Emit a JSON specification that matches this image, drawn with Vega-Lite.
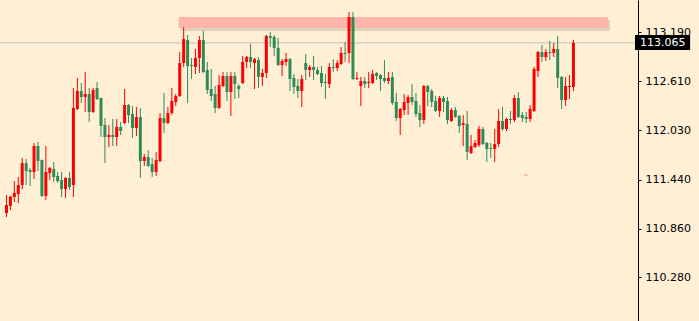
{
  "$schema": "https://vega.github.io/schema/vega-lite/v6.json",
  "width": 638,
  "height": 321,
  "autosize": {"type": "none"},
  "padding": {"left": 0, "top": 0, "right": 61, "bottom": 0},
  "background": "#FFEFD5",
  "config": {
    "view": {"stroke": null},
    "axisY": {"grid": false, "domain": true, "domainColor": "#000000", "domainWidth": 1, "ticks": true, "tickColor": "#000000", "tickSize": 3, "tickWidth": 1, "labelFont": "DejaVu Sans", "labelFontSize": 11, "labelColor": "#000000", "labelPadding": 4, "labelBaseline": "middle", "labelFlush": false, "labelOverlap": false}
  },
  "datasets": {
    "candles": [
      {"i":0,"o":111.044,"h":111.258,"l":110.997,"c":111.139},
      {"i":1,"o":111.128,"h":111.246,"l":111.080,"c":111.240},
      {"i":2,"o":111.234,"h":111.424,"l":111.175,"c":111.282},
      {"i":3,"o":111.270,"h":111.472,"l":111.163,"c":111.377},
      {"i":4,"o":111.377,"h":111.698,"l":111.329,"c":111.638},
      {"i":5,"o":111.638,"h":111.686,"l":111.377,"c":111.543},
      {"i":6,"o":111.555,"h":111.579,"l":111.365,"c":111.531},
      {"i":7,"o":111.531,"h":111.876,"l":111.448,"c":111.840},
      {"i":8,"o":111.840,"h":111.888,"l":111.543,"c":111.662},
      {"i":9,"o":111.674,"h":111.680,"l":111.234,"c":111.246},
      {"i":10,"o":111.246,"h":111.840,"l":111.199,"c":111.531},
      {"i":11,"o":111.520,"h":111.591,"l":111.436,"c":111.579},
      {"i":12,"o":111.567,"h":111.650,"l":111.413,"c":111.472},
      {"i":13,"o":111.484,"h":111.531,"l":111.401,"c":111.424},
      {"i":14,"o":111.436,"h":111.531,"l":111.234,"c":111.329},
      {"i":15,"o":111.329,"h":111.472,"l":111.223,"c":111.460},
      {"i":16,"o":111.460,"h":111.531,"l":111.318,"c":111.353},
      {"i":17,"o":111.377,"h":112.529,"l":111.234,"c":112.291},
      {"i":18,"o":112.280,"h":112.648,"l":112.268,"c":112.493},
      {"i":19,"o":112.493,"h":112.588,"l":112.351,"c":112.422},
      {"i":20,"o":112.422,"h":112.719,"l":112.244,"c":112.458},
      {"i":21,"o":112.458,"h":112.529,"l":112.125,"c":112.244},
      {"i":22,"o":112.244,"h":112.529,"l":112.232,"c":112.505},
      {"i":23,"o":112.529,"h":112.600,"l":112.386,"c":112.398},
      {"i":24,"o":112.410,"h":112.416,"l":111.947,"c":112.078},
      {"i":25,"o":112.090,"h":112.173,"l":111.638,"c":111.947},
      {"i":26,"o":111.947,"h":112.090,"l":111.828,"c":111.971},
      {"i":27,"o":111.971,"h":112.161,"l":111.840,"c":111.947},
      {"i":28,"o":111.947,"h":112.161,"l":111.840,"c":112.066},
      {"i":29,"o":112.066,"h":112.125,"l":111.971,"c":112.018},
      {"i":30,"o":112.113,"h":112.517,"l":112.101,"c":112.327},
      {"i":31,"o":112.327,"h":112.339,"l":112.113,"c":112.208},
      {"i":32,"o":112.220,"h":112.315,"l":111.935,"c":112.054},
      {"i":33,"o":112.054,"h":112.303,"l":111.959,"c":112.185},
      {"i":34,"o":112.185,"h":112.291,"l":111.460,"c":111.662},
      {"i":35,"o":111.662,"h":111.745,"l":111.603,"c":111.710},
      {"i":36,"o":111.710,"h":111.793,"l":111.591,"c":111.603},
      {"i":37,"o":111.626,"h":111.698,"l":111.472,"c":111.531},
      {"i":38,"o":111.531,"h":111.769,"l":111.484,"c":111.674},
      {"i":39,"o":111.662,"h":112.232,"l":111.650,"c":112.173},
      {"i":40,"o":112.173,"h":112.470,"l":111.995,"c":112.113},
      {"i":41,"o":112.113,"h":112.303,"l":112.101,"c":112.232},
      {"i":42,"o":112.232,"h":112.529,"l":112.208,"c":112.375},
      {"i":43,"o":112.363,"h":112.458,"l":112.315,"c":112.434},
      {"i":44,"o":112.434,"h":112.956,"l":112.422,"c":112.826},
      {"i":45,"o":112.826,"h":113.253,"l":112.778,"c":113.111},
      {"i":46,"o":113.099,"h":113.158,"l":112.351,"c":112.790},
      {"i":47,"o":112.802,"h":112.885,"l":112.636,"c":112.790},
      {"i":48,"o":112.778,"h":112.992,"l":112.695,"c":112.885},
      {"i":49,"o":112.885,"h":113.146,"l":112.707,"c":113.099},
      {"i":50,"o":113.099,"h":113.206,"l":112.707,"c":112.719},
      {"i":51,"o":112.743,"h":112.838,"l":112.458,"c":112.505},
      {"i":52,"o":112.517,"h":112.755,"l":112.375,"c":112.434},
      {"i":53,"o":112.458,"h":112.553,"l":112.232,"c":112.291},
      {"i":54,"o":112.291,"h":112.683,"l":112.280,"c":112.565},
      {"i":55,"o":112.553,"h":112.719,"l":112.541,"c":112.671},
      {"i":56,"o":112.671,"h":112.719,"l":112.375,"c":112.481},
      {"i":57,"o":112.481,"h":112.719,"l":112.196,"c":112.671},
      {"i":58,"o":112.671,"h":112.719,"l":112.398,"c":112.576},
      {"i":59,"o":112.553,"h":112.576,"l":112.410,"c":112.517},
      {"i":60,"o":112.588,"h":112.909,"l":112.576,"c":112.838},
      {"i":61,"o":112.838,"h":112.909,"l":112.766,"c":112.897},
      {"i":62,"o":112.897,"h":113.051,"l":112.766,"c":112.838},
      {"i":63,"o":112.826,"h":112.885,"l":112.517,"c":112.873},
      {"i":64,"o":112.861,"h":112.897,"l":112.529,"c":112.660},
      {"i":65,"o":112.660,"h":112.755,"l":112.553,"c":112.707},
      {"i":66,"o":112.707,"h":113.158,"l":112.648,"c":113.146},
      {"i":67,"o":113.146,"h":113.194,"l":113.016,"c":113.123},
      {"i":68,"o":113.135,"h":113.158,"l":112.909,"c":113.004},
      {"i":69,"o":113.004,"h":113.123,"l":112.790,"c":112.802},
      {"i":70,"o":112.802,"h":112.873,"l":112.671,"c":112.850},
      {"i":71,"o":112.838,"h":112.945,"l":112.790,"c":112.873},
      {"i":72,"o":112.873,"h":112.885,"l":112.493,"c":112.636},
      {"i":73,"o":112.648,"h":112.695,"l":112.458,"c":112.541},
      {"i":74,"o":112.553,"h":112.636,"l":112.410,"c":112.493},
      {"i":75,"o":112.493,"h":112.683,"l":112.303,"c":112.636},
      {"i":76,"o":112.826,"h":112.933,"l":112.624,"c":112.743},
      {"i":77,"o":112.743,"h":112.802,"l":112.660,"c":112.778},
      {"i":78,"o":112.778,"h":112.909,"l":112.624,"c":112.743},
      {"i":79,"o":112.743,"h":112.778,"l":112.683,"c":112.695},
      {"i":80,"o":112.707,"h":112.790,"l":112.541,"c":112.588},
      {"i":81,"o":112.600,"h":112.695,"l":112.398,"c":112.588},
      {"i":82,"o":112.576,"h":112.826,"l":112.529,"c":112.778},
      {"i":83,"o":112.778,"h":112.873,"l":112.719,"c":112.766},
      {"i":84,"o":112.766,"h":112.861,"l":112.731,"c":112.826},
      {"i":85,"o":112.814,"h":113.016,"l":112.802,"c":112.945},
      {"i":86,"o":112.945,"h":113.075,"l":112.838,"c":112.933},
      {"i":87,"o":112.945,"h":113.431,"l":112.826,"c":113.372},
      {"i":88,"o":113.372,"h":113.431,"l":112.624,"c":112.636},
      {"i":89,"o":112.636,"h":112.719,"l":112.624,"c":112.648},
      {"i":90,"o":112.553,"h":112.660,"l":112.315,"c":112.612},
      {"i":91,"o":112.612,"h":112.660,"l":112.529,"c":112.576},
      {"i":92,"o":112.588,"h":112.719,"l":112.529,"c":112.600},
      {"i":93,"o":112.588,"h":112.743,"l":112.576,"c":112.695},
      {"i":94,"o":112.707,"h":112.719,"l":112.624,"c":112.671},
      {"i":95,"o":112.683,"h":112.695,"l":112.493,"c":112.636},
      {"i":96,"o":112.648,"h":112.861,"l":112.588,"c":112.612},
      {"i":97,"o":112.612,"h":112.719,"l":112.576,"c":112.648},
      {"i":98,"o":112.660,"h":112.719,"l":112.327,"c":112.351},
      {"i":99,"o":112.363,"h":112.470,"l":112.137,"c":112.173},
      {"i":100,"o":112.173,"h":112.291,"l":111.971,"c":112.280},
      {"i":101,"o":112.268,"h":112.458,"l":112.208,"c":112.363},
      {"i":102,"o":112.351,"h":112.446,"l":112.208,"c":112.422},
      {"i":103,"o":112.422,"h":112.576,"l":112.327,"c":112.363},
      {"i":104,"o":112.375,"h":112.470,"l":112.185,"c":112.220},
      {"i":105,"o":112.232,"h":112.327,"l":112.066,"c":112.149},
      {"i":106,"o":112.149,"h":112.565,"l":112.101,"c":112.553},
      {"i":107,"o":112.553,"h":112.565,"l":112.315,"c":112.481},
      {"i":108,"o":112.493,"h":112.517,"l":112.303,"c":112.363},
      {"i":109,"o":112.375,"h":112.434,"l":112.244,"c":112.256},
      {"i":110,"o":112.256,"h":112.434,"l":112.185,"c":112.410},
      {"i":111,"o":112.410,"h":112.434,"l":112.244,"c":112.363},
      {"i":112,"o":112.375,"h":112.422,"l":112.101,"c":112.149},
      {"i":113,"o":112.137,"h":112.291,"l":112.125,"c":112.268},
      {"i":114,"o":112.268,"h":112.303,"l":112.173,"c":112.185},
      {"i":115,"o":112.196,"h":112.208,"l":111.995,"c":112.078},
      {"i":116,"o":112.090,"h":112.208,"l":111.840,"c":112.113},
      {"i":117,"o":112.101,"h":112.256,"l":111.674,"c":111.769},
      {"i":118,"o":111.757,"h":111.971,"l":111.745,"c":111.840},
      {"i":119,"o":111.828,"h":111.911,"l":111.816,"c":111.876},
      {"i":120,"o":111.852,"h":112.078,"l":111.828,"c":112.042},
      {"i":121,"o":112.042,"h":112.066,"l":111.852,"c":111.864},
      {"i":122,"o":111.876,"h":111.888,"l":111.650,"c":111.805},
      {"i":123,"o":111.816,"h":111.876,"l":111.698,"c":111.805},
      {"i":124,"o":111.805,"h":112.042,"l":111.650,"c":111.864},
      {"i":125,"o":111.864,"h":112.280,"l":111.828,"c":112.137},
      {"i":126,"o":112.137,"h":112.303,"l":112.018,"c":112.042},
      {"i":127,"o":112.042,"h":112.173,"l":112.018,"c":112.161},
      {"i":128,"o":112.161,"h":112.256,"l":112.101,"c":112.149},
      {"i":129,"o":112.149,"h":112.446,"l":112.125,"c":112.410},
      {"i":130,"o":112.410,"h":112.481,"l":112.173,"c":112.185},
      {"i":131,"o":112.208,"h":112.244,"l":112.125,"c":112.173},
      {"i":132,"o":112.185,"h":112.244,"l":112.113,"c":112.161},
      {"i":133,"o":112.161,"h":112.327,"l":112.125,"c":112.280},
      {"i":134,"o":112.256,"h":112.778,"l":112.244,"c":112.755},
      {"i":135,"o":112.731,"h":112.968,"l":112.660,"c":112.956},
      {"i":136,"o":112.956,"h":113.040,"l":112.838,"c":112.897},
      {"i":137,"o":112.897,"h":112.992,"l":112.850,"c":112.956},
      {"i":138,"o":112.956,"h":113.087,"l":112.861,"c":112.945},
      {"i":139,"o":112.945,"h":113.063,"l":112.897,"c":112.992},
      {"i":140,"o":112.992,"h":113.146,"l":112.529,"c":112.648},
      {"i":141,"o":112.660,"h":112.671,"l":112.280,"c":112.386},
      {"i":142,"o":112.386,"h":112.660,"l":112.315,"c":112.553},
      {"i":143,"o":112.541,"h":112.683,"l":112.398,"c":112.553},
      {"i":144,"o":112.541,"h":113.099,"l":112.493,"c":113.065}
    ],
    "zone": [{"x1": 43.75, "x2": 152.75, "top": 113.372, "bot": 113.241}],
    "dot": [{"x1": 131.375, "x2": 132.375, "top": 111.508, "bot": 111.484}],
    "price": [{"p": 113.065, "bx1": 159.625, "bx2": 173.625, "ptop": 113.158, "pbot": 112.980, "tx": 160.9, "label": "113.065"}]
  },
  "layer": [
    {
      "data": {"name": "zone"},
      "mark": {"type": "rect", "color": "#B9AE9A", "opacity": 0.45, "xOffset": 2, "x2Offset": 2, "yOffset": 3, "y2Offset": 3},
      "encoding": {
        "x": {"field": "x1", "type": "quantitative", "scale": {"domain": [-0.375, 159.125], "nice": false, "zero": false}, "axis": null},
        "x2": {"field": "x2"},
        "y": {"field": "top", "type": "quantitative", "scale": {"domain": [109.762, 113.574], "nice": false, "zero": false},
          "axis": {"orient": "right", "title": null, "values": [113.19, 112.61, 112.03, 111.44, 110.86, 110.28], "format": ".3f", "zindex": 0}},
        "y2": {"field": "bot"}
      }
    },
    {
      "data": {"name": "zone"},
      "mark": {"type": "rect", "color": "#FFB5A9"},
      "encoding": {
        "x": {"field": "x1", "type": "quantitative", "scale": {"domain": [-0.375, 159.125], "nice": false, "zero": false}, "axis": null},
        "x2": {"field": "x2"},
        "y": {"field": "top", "type": "quantitative", "scale": {"domain": [109.762, 113.574], "nice": false, "zero": false},
          "axis": {"orient": "right", "title": null, "values": [113.19, 112.61, 112.03, 111.44, 110.86, 110.28], "format": ".3f", "zindex": 0}},
        "y2": {"field": "bot"}
      }
    },
    {
      "data": {"name": "dot"},
      "mark": {"type": "rect", "color": "#FFB5A9", "opacity": 0.8},
      "encoding": {
        "x": {"field": "x1", "type": "quantitative", "scale": {"domain": [-0.375, 159.125], "nice": false, "zero": false}, "axis": null},
        "x2": {"field": "x2"},
        "y": {"field": "top", "type": "quantitative", "scale": {"domain": [109.762, 113.574], "nice": false, "zero": false},
          "axis": {"orient": "right", "title": null, "values": [113.19, 112.61, 112.03, 111.44, 110.86, 110.28], "format": ".3f", "zindex": 0}},
        "y2": {"field": "bot"}
      }
    },
    {
      "data": {"name": "price"},
      "mark": {"type": "rule", "color": "#C0C0C0", "strokeWidth": 1},
      "encoding": {
        "y": {"field": "p", "type": "quantitative", "scale": {"domain": [109.762, 113.574], "nice": false, "zero": false},
          "axis": {"orient": "right", "title": null, "values": [113.19, 112.61, 112.03, 111.44, 110.86, 110.28], "format": ".3f", "zindex": 0}}
      }
    },
    {
      "data": {"name": "candles"},
      "mark": {"type": "rule", "strokeWidth": 1},
      "encoding": {
        "x": {"field": "i", "type": "quantitative", "scale": {"domain": [-0.375, 159.125], "nice": false, "zero": false}, "axis": null},
        "y": {"field": "l", "type": "quantitative", "scale": {"domain": [109.762, 113.574], "nice": false, "zero": false},
          "axis": {"orient": "right", "title": null, "values": [113.19, 112.61, 112.03, 111.44, 110.86, 110.28], "format": ".3f", "zindex": 0}},
        "y2": {"field": "h"},
        "color": {"condition": {"test": "datum.c > datum.o", "value": "#FF0000"}, "value": "#2E8B57"}
      }
    },
    {
      "data": {"name": "candles"},
      "mark": {"type": "bar", "size": 3},
      "encoding": {
        "x": {"field": "i", "type": "quantitative", "scale": {"domain": [-0.375, 159.125], "nice": false, "zero": false}, "axis": null},
        "y": {"field": "o", "type": "quantitative", "scale": {"domain": [109.762, 113.574], "nice": false, "zero": false},
          "axis": {"orient": "right", "title": null, "values": [113.19, 112.61, 112.03, 111.44, 110.86, 110.28], "format": ".3f", "zindex": 0}},
        "y2": {"field": "c"},
        "color": {"condition": {"test": "datum.c > datum.o", "value": "#FF0000"}, "value": "#2E8B57"}
      }
    },
    {
      "data": {"name": "price"},
      "mark": {"type": "rect", "color": "#000000"},
      "encoding": {
        "x": {"field": "bx1", "type": "quantitative", "scale": {"domain": [-0.375, 159.125], "nice": false, "zero": false}, "axis": null},
        "x2": {"field": "bx2"},
        "y": {"field": "ptop", "type": "quantitative", "scale": {"domain": [109.762, 113.574], "nice": false, "zero": false},
          "axis": {"orient": "right", "title": null, "values": [113.19, 112.61, 112.03, 111.44, 110.86, 110.28], "format": ".3f", "zindex": 0}},
        "y2": {"field": "pbot"}
      }
    },
    {
      "data": {"name": "price"},
      "mark": {"type": "text", "color": "#FFFFFF", "font": "DejaVu Sans", "fontSize": 11, "align": "left", "baseline": "middle"},
      "encoding": {
        "x": {"field": "tx", "type": "quantitative", "scale": {"domain": [-0.375, 159.125], "nice": false, "zero": false}, "axis": null},
        "y": {"field": "p", "type": "quantitative", "scale": {"domain": [109.762, 113.574], "nice": false, "zero": false},
          "axis": {"orient": "right", "title": null, "values": [113.19, 112.61, 112.03, 111.44, 110.86, 110.28], "format": ".3f", "zindex": 0}},
        "text": {"field": "label"}
      }
    }
  ]
}
